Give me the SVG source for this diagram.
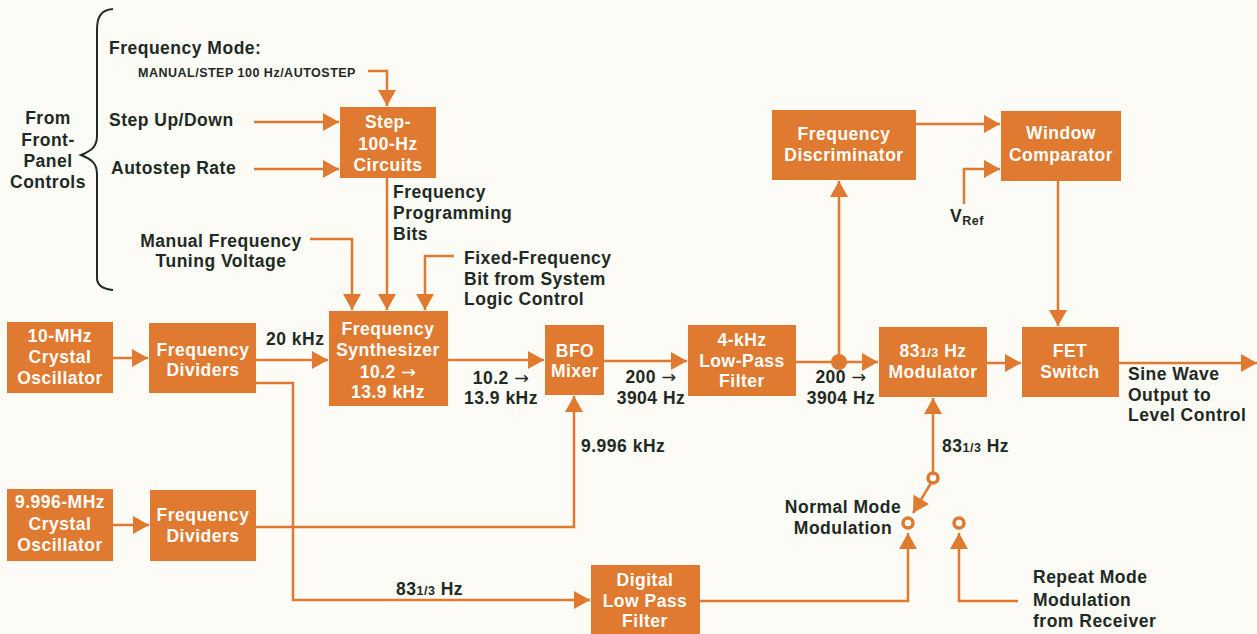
<svg xmlns="http://www.w3.org/2000/svg" width="1257" height="634" viewBox="0 0 1257 634">
<defs>
<style>
.bg{fill:#fdfbf5}
.box{fill:#df7a30}
.bt{font-family:"Liberation Sans",Arial,sans-serif;font-weight:bold;font-size:17.5px;fill:#ffffff;text-anchor:middle;letter-spacing:0.5px}
.lb{font-family:"Liberation Sans",Arial,sans-serif;font-weight:bold;font-size:17.5px;fill:#1e2a24;letter-spacing:0.5px}
.mid{text-anchor:middle}
.sm{font-size:12.5px}
.ar{font-family:"DejaVu Sans",sans-serif;font-weight:normal}
.ln{fill:none;stroke:#df7a30;stroke-width:2.5}
.ring{fill:#fdfbf5;stroke:#df7a30;stroke-width:3.5}
.brace{fill:none;stroke:#1e2a24;stroke-width:2}
</style>
<marker id="ah" markerUnits="userSpaceOnUse" markerWidth="17" markerHeight="18" refX="16" refY="9" orient="auto" viewBox="0 0 17 18">
<path d="M0,0 L16,9 L0,18 z" fill="#df7a30"/>
</marker>
</defs>
<rect class="bg" x="0" y="0" width="1257" height="634"/>

<g id="connectors">
<path class="ln" d="M368,71 H387 V106" marker-end="url(#ah)"/>
<path class="ln" d="M254,122 H339" marker-end="url(#ah)"/>
<path class="ln" d="M254,169 H339" marker-end="url(#ah)"/>
<path class="ln" d="M387,178 V310" marker-end="url(#ah)"/>
<path class="ln" d="M310,239 H352 V310" marker-end="url(#ah)"/>
<path class="ln" d="M454,256 H425 V310" marker-end="url(#ah)"/>
<path class="ln" d="M113,358 H148" marker-end="url(#ah)"/>
<path class="ln" d="M256,360 H328" marker-end="url(#ah)"/>
<path class="ln" d="M256,383 H293 V600 H590" marker-end="url(#ah)"/>
<path class="ln" d="M113,525 H149" marker-end="url(#ah)"/>
<path class="ln" d="M256,527 H574 V396" marker-end="url(#ah)"/>
<path class="ln" d="M448,360 H544" marker-end="url(#ah)"/>
<path class="ln" d="M604,361 H687" marker-end="url(#ah)"/>
<path class="ln" d="M796,362 H878" marker-end="url(#ah)"/>
<circle cx="839" cy="362" r="8" fill="#df7a30"/>
<path class="ln" d="M839,362 V181" marker-end="url(#ah)"/>
<path class="ln" d="M916,124 H1000" marker-end="url(#ah)"/>
<path class="ln" d="M964,204 V169 H1000" marker-end="url(#ah)"/>
<path class="ln" d="M1058,181 V326" marker-end="url(#ah)"/>
<path class="ln" d="M987,363 H1021" marker-end="url(#ah)"/>
<path class="ln" d="M1119,363 H1257" marker-end="url(#ah)"/>
<path class="ln" d="M933,472 V398" marker-end="url(#ah)"/>
<path class="ln" d="M931,483 L913,513" marker-end="url(#ah)"/>
<path class="ln" d="M700,601 H908 V533" marker-end="url(#ah)"/>
<path class="ln" d="M1018,601 H959 V533" marker-end="url(#ah)"/>
<circle class="ring" cx="933" cy="478" r="5"/>
<circle class="ring" cx="908" cy="523" r="5"/>
<circle class="ring" cx="959" cy="523" r="5"/>
</g>

<g id="brace">
<path class="brace" d="M113,9 C100,10 97,18 97,30 V136 C97,147 91,151 81,155 C91,159 97,163 97,174 V278 C97,285 102,289 113,290"/>
</g>

<g id="labels">
<text class="lb mid" x="48" y="124">From</text>
<text class="lb mid" x="48" y="146">Front-</text>
<text class="lb mid" x="48" y="167">Panel</text>
<text class="lb mid" x="48" y="188">Controls</text>
<text class="lb" x="109" y="54">Frequency Mode:</text>
<text class="lb sm" x="138" y="77">MANUAL/STEP 100 Hz/AUTOSTEP</text>
<text class="lb" x="109" y="126">Step Up/Down</text>
<text class="lb" x="111" y="174">Autostep Rate</text>
<text class="lb mid" x="221" y="247">Manual Frequency</text>
<text class="lb mid" x="221" y="267">Tuning Voltage</text>
<text class="lb" x="393" y="198">Frequency</text>
<text class="lb" x="393" y="219">Programming</text>
<text class="lb" x="393" y="240">Bits</text>
<text class="lb" x="464" y="264">Fixed-Frequency</text>
<text class="lb" x="464" y="285">Bit from System</text>
<text class="lb" x="464" y="305">Logic Control</text>
<text class="lb" x="266" y="345">20 kHz</text>
<text class="lb mid" x="501" y="384">10.2 <tspan class="ar">→</tspan></text>
<text class="lb mid" x="501" y="404">13.9 kHz</text>
<text class="lb mid" x="651" y="383">200 <tspan class="ar">→</tspan></text>
<text class="lb mid" x="651" y="404">3904 Hz</text>
<text class="lb mid" x="841" y="383">200 <tspan class="ar">→</tspan></text>
<text class="lb mid" x="841" y="404">3904 Hz</text>
<text class="lb" x="581" y="452">9.996 kHz</text>
<text class="lb" x="942" y="452">83<tspan class="sm">1/3</tspan> Hz</text>
<text class="lb" x="396" y="595">83<tspan class="sm">1/3</tspan> Hz</text>
<text class="lb" x="950" y="222">V<tspan class="sm" dy="3">Ref</tspan></text>
<text class="lb" x="1128" y="380">Sine Wave</text>
<text class="lb" x="1128" y="401">Output to</text>
<text class="lb" x="1128" y="421">Level Control</text>
<text class="lb mid" x="843" y="513">Normal Mode</text>
<text class="lb mid" x="843" y="534">Modulation</text>
<text class="lb" x="1033" y="583">Repeat Mode</text>
<text class="lb" x="1033" y="606">Modulation</text>
<text class="lb" x="1033" y="627">from Receiver</text>
</g>

<g id="step100">
<rect class="box" x="340" y="107" width="96" height="71"/>
<text class="bt" x="388" y="128">Step-</text>
<text class="bt" x="388" y="150">100-Hz</text>
<text class="bt" x="388" y="171">Circuits</text>
</g>
<g id="synth">
<rect class="box" x="329" y="311" width="119" height="95"/>
<text class="bt" x="388" y="335">Frequency</text>
<text class="bt" x="388" y="356">Synthesizer</text>
<text class="bt" x="388" y="378">10.2 <tspan class="ar">→</tspan></text>
<text class="bt" x="388" y="398">13.9 kHz</text>
</g>
<g id="osc10">
<rect class="box" x="7" y="322" width="106" height="71"/>
<text class="bt" x="60" y="342">10-MHz</text>
<text class="bt" x="60" y="363">Crystal</text>
<text class="bt" x="60" y="384">Oscillator</text>
</g>
<g id="div1">
<rect class="box" x="149" y="323" width="107" height="70"/>
<text class="bt" x="203" y="356">Frequency</text>
<text class="bt" x="203" y="376">Dividers</text>
</g>
<g id="osc9996">
<rect class="box" x="7" y="489" width="106" height="72"/>
<text class="bt" x="60" y="508">9.996-MHz</text>
<text class="bt" x="60" y="530">Crystal</text>
<text class="bt" x="60" y="551">Oscillator</text>
</g>
<g id="div2">
<rect class="box" x="150" y="490" width="106" height="71"/>
<text class="bt" x="203" y="521">Frequency</text>
<text class="bt" x="203" y="542">Dividers</text>
</g>
<g id="bfo">
<rect class="box" x="545" y="325" width="59" height="70"/>
<text class="bt" x="575" y="357">BFO</text>
<text class="bt" x="575" y="377">Mixer</text>
</g>
<g id="lpf4k">
<rect class="box" x="688" y="325" width="108" height="71"/>
<text class="bt" x="742" y="346">4-kHz</text>
<text class="bt" x="742" y="367">Low-Pass</text>
<text class="bt" x="742" y="387">Filter</text>
</g>
<g id="disc">
<rect class="box" x="772" y="110" width="144" height="70"/>
<text class="bt" x="844" y="140">Frequency</text>
<text class="bt" x="844" y="161">Discriminator</text>
</g>
<g id="window">
<rect class="box" x="1001" y="111" width="120" height="70"/>
<text class="bt" x="1061" y="139">Window</text>
<text class="bt" x="1061" y="161">Comparator</text>
</g>
<g id="modulator">
<rect class="box" x="879" y="327" width="108" height="70"/>
<text class="bt" x="933" y="357">83<tspan class="sm">1/3</tspan> Hz</text>
<text class="bt" x="933" y="378">Modulator</text>
</g>
<g id="fet">
<rect class="box" x="1022" y="327" width="97" height="70"/>
<text class="bt" x="1070" y="357">FET</text>
<text class="bt" x="1070" y="378">Switch</text>
</g>
<g id="dlpf">
<rect class="box" x="591" y="565" width="109" height="69"/>
<text class="bt" x="645" y="586">Digital</text>
<text class="bt" x="645" y="607">Low Pass</text>
<text class="bt" x="645" y="627">Filter</text>
</g>
</svg>
